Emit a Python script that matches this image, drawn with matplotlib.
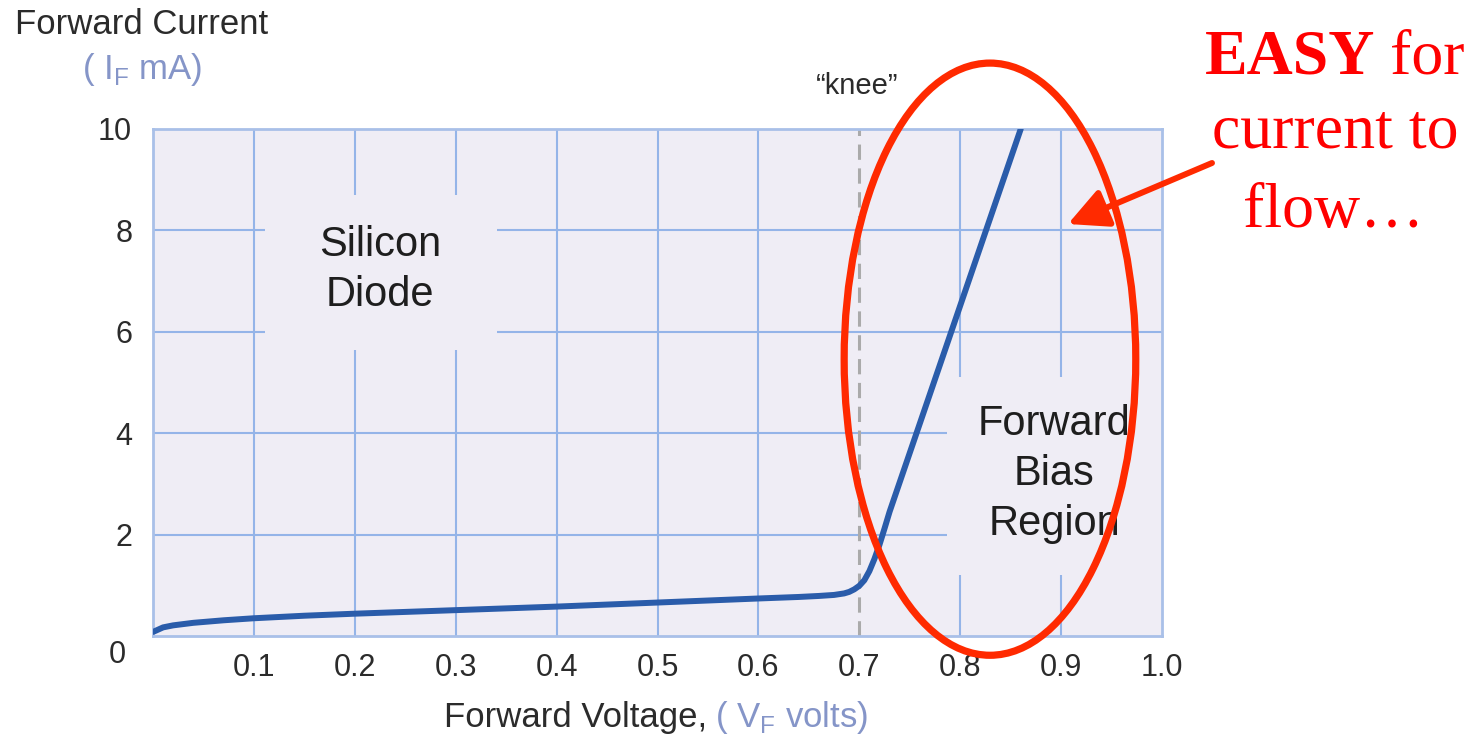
import matplotlib
matplotlib.use("Agg")
import matplotlib.pyplot as plt
from matplotlib.patches import Ellipse, Rectangle, FancyArrowPatch

# ---- data ----
voltage = [0.0, 0.01, 0.02, 0.04, 0.07, 0.10, 0.15, 0.20, 0.30, 0.40, 0.50,
           0.60, 0.64, 0.66, 0.675, 0.685, 0.69, 0.695, 0.70, 0.705, 0.71,
           0.715, 0.72, 0.725, 0.73, 0.86]
current = [0.08, 0.17, 0.21, 0.26, 0.31, 0.35, 0.40, 0.44, 0.51, 0.58, 0.66,
           0.74, 0.77, 0.79, 0.81, 0.84, 0.87, 0.92, 0.99, 1.10, 1.28,
           1.52, 1.80, 2.12, 2.45, 10.0]
x_ticks = [0.1, 0.2, 0.3, 0.4, 0.5, 0.6, 0.7, 0.8, 0.9, 1.0]
x_tick_labels = ["0.1", "0.2", "0.3", "0.4", "0.5", "0.6", "0.7", "0.8", "0.9", "1.0"]
y_ticks = [2, 4, 6, 8, 10]
y_tick_labels = ["2", "4", "6", "8", "10"]
knee_voltage = 0.7

W, H = 1481, 737
SANS = "Liberation Sans"
SERIF = "Liberation Serif"
BG = "#EFEDF5"
GRID = "#94B4E8"
SPINE = "#A9C0E8"
CURVE = "#2A5CAA"
RED = "#FF2A00"
DARK = "#2B2B2B"
SOFT = "#8595C8"

fig = plt.figure(figsize=(W / 100, H / 100), dpi=100)
fig.patch.set_facecolor("white")


def px(x, y):
    return (x / W, 1 - y / H)


left, right, top, bottom = 153, 1162, 129, 636
ax = fig.add_axes([left / W, 1 - bottom / H, (right - left) / W, (bottom - top) / H])
ax.set_facecolor(BG)
ax.set_xlim(0, 1.0)
ax.set_ylim(0, 10)

ax.set_xticks(x_ticks)
ax.set_xticklabels(x_tick_labels, family=SANS, fontsize=22, color=DARK)
ax.set_yticks(y_ticks)
ax.set_yticklabels(y_tick_labels, family=SANS, fontsize=22, color=DARK)
ax.tick_params(length=0, pad=12)
ax.tick_params(axis="y", pad=15)

ax.set_axisbelow(True)
ax.grid(True, color=GRID, linewidth=1.5)
for t, gl in zip(x_ticks, ax.xaxis.get_gridlines()):
    if abs(t - knee_voltage) < 1e-9 or abs(t - 1.0) < 1e-9:
        gl.set_visible(False)
for t, gl in zip(y_ticks, ax.yaxis.get_gridlines()):
    if t == 10:
        gl.set_visible(False)

for s in ax.spines.values():
    s.set_color(SPINE)
    s.set_linewidth(2)

# "0" label on y axis (offset below the corner)
ax.text(-0.035, -0.38, "0", family=SANS, fontsize=22, color=DARK,
        ha="center", va="center", clip_on=False)

# cover boxes behind labels (hide grid)
ax.add_patch(Rectangle((0.111, 5.64), 0.230, 3.06, facecolor=BG,
                       edgecolor="none", zorder=1))
ax.add_patch(Rectangle((0.787, 1.2), 0.213, 3.9, facecolor=BG,
                       edgecolor="none", zorder=1))

# knee dashed line
ax.axvline(knee_voltage, color="#AAAAAA", linewidth=2.2,
           linestyle=(0, (5, 2.8)), zorder=2)

# diode curve
ax.plot(voltage, current, color=CURVE, linewidth=4.3, zorder=3,
        solid_capstyle="round", solid_joinstyle="round")

# text inside plot
ax.text(0.225, 7.22, "Silicon\nDiode", family=SANS, fontsize=30, color="#1E1E1E",
        ha="center", va="center", linespacing=1.32, zorder=3)
ax.text(0.893, 3.2, "Forward\nBias\nRegion", family=SANS, fontsize=30,
        color="#1E1E1E", ha="center", va="center", linespacing=1.32, zorder=3)

# red ellipse
ax.add_patch(Ellipse((0.8295, 5.46), 0.289, 11.68, fill=False, edgecolor=RED,
                     linewidth=5.2, zorder=4, clip_on=False))

# titles / labels
fig.text(*px(142, 24), "Forward Current", family=SANS, fontsize=25, color=DARK,
         ha="center", va="center")
fig.text(*px(142, 70), r"( I$_\mathregular{F}$ mA)", family=SANS, fontsize=25,
         color=SOFT, ha="center", va="center")
fig.text(*px(857, 86), "\u201cknee\u201d", family=SANS, fontsize=21, color=DARK,
         ha="center", va="center")
fig.text(*px(707, 718), "Forward Voltage,", family=SANS, fontsize=25, color=DARK,
         ha="right", va="center")
fig.text(*px(715, 718), r"( V$_\mathregular{F}$ volts)", family=SANS, fontsize=25,
         color=SOFT, ha="left", va="center")

# red annotation text
fig.text(*px(1205, 74), "EASY", family=SERIF, fontsize=46, fontweight="bold",
         color="#FF0000", ha="left", va="baseline")
fig.text(*px(1465, 74), "for", family=SERIF, fontsize=46, color="#FF0000",
         ha="right", va="baseline")
fig.text(*px(1335, 148), "current to", family=SERIF, fontsize=46, color="#FF0000",
         ha="center", va="baseline")
fig.text(*px(1333, 227), "flow\u2026", family=SERIF, fontsize=46, color="#FF0000",
         ha="center", va="baseline")

arrow = FancyArrowPatch(px(1212, 163), px(1068, 224), transform=fig.transFigure,
                        arrowstyle="-|>,head_length=1.2,head_width=0.6",
                        mutation_scale=20, color=RED, linewidth=4.3,
                        shrinkA=0, shrinkB=0)
fig.patches.append(arrow)

fig.savefig("out.png", dpi=100, facecolor="white")
